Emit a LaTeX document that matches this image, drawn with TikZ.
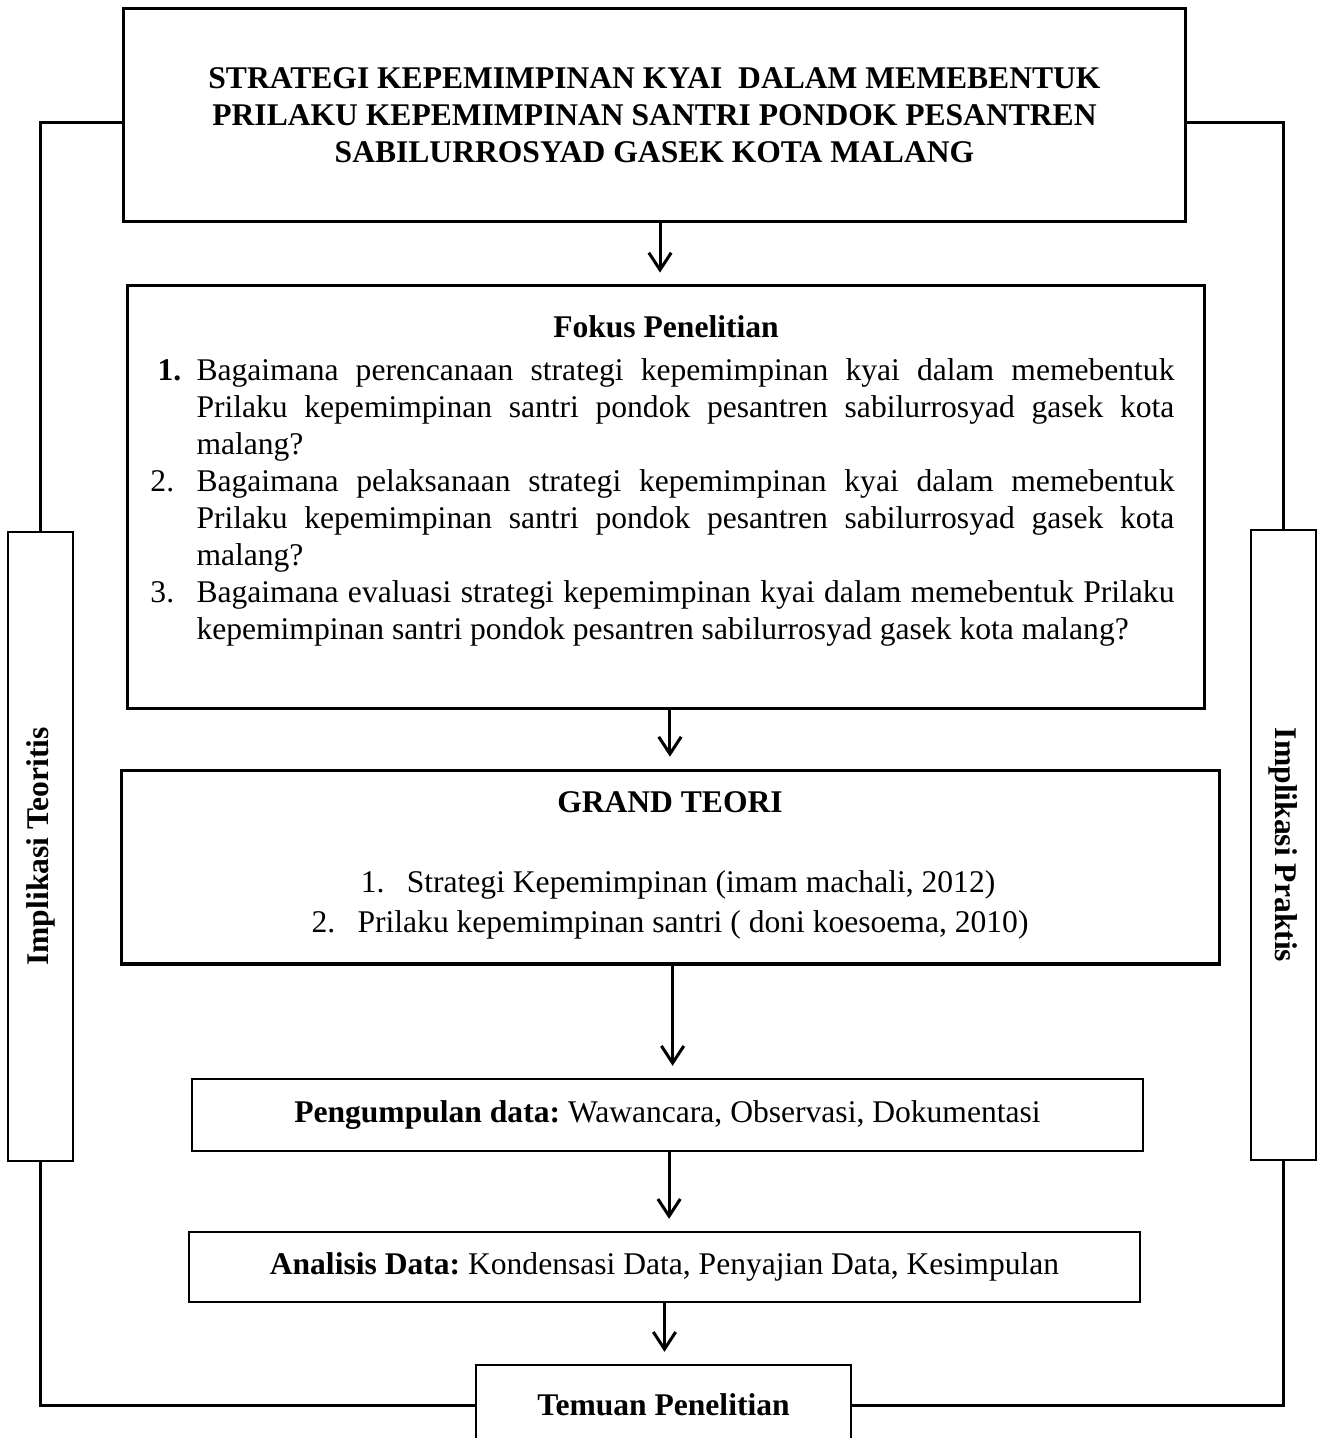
\documentclass[tikz,border=0pt]{standalone}
\usepackage{fontspec}
\setmainfont{Liberation Serif}
\frenchspacing
\usetikzlibrary{arrows.meta,positioning}
\tikzset{
    box/.style={draw,line width=1pt,inner sep=0pt},
    bigbox/.style={box,line width=1.15pt},
    bold/.style={font=\fontsize{12}{14}\selectfont\bfseries},
    link/.style={line width=1.15pt},
    flow/.style={line width=1.15pt,-{Straight Barb[length=6.5pt,width=8.5pt]},shorten >=4.5pt},
    every node/.style={font=\fontsize{12}{14.1}\selectfont}
}

\begin{document}
\begin{tikzpicture}[x=.38pt,y=-.38pt]

    \useasboundingbox (0,0) rectangle (1319,1438);
    \clip (0,0) rectangle (1319,1438);

    % Draw title box.
    \node (title) at (654.5,115) [bigbox,bold,align=center,minimum width=403.9pt,minimum height=80.6pt]
        {STRATEGI KEPEMIMPINAN KYAI\ \ DALAM MEMEBENTUK\\
         PRILAKU KEPEMIMPINAN SANTRI PONDOK PESANTREN\\
         SABILURROSYAD GASEK KOTA MALANG};

    % Draw focus box with its questions.
    \node (fokus) at (666,497) [bigbox,minimum width=409.6pt,minimum height=160.4pt] {};
    \node (fokushead) at (666,337) [anchor=base,bold] {Fokus Penelitian};
    \node (fokuslist) at (196,380) [anchor=base west,inner sep=0pt,text width=371.6pt,align=justify]
        {\noindent\llap{\makebox[14.8pt][l]{\textbf{1.}}}Bagaimana perencanaan strategi kepemimpinan kyai dalam memebentuk\linebreak
         Prilaku kepemimpinan santri pondok pesantren sabilurrosyad gasek kota\linebreak
         malang?\par
         \noindent\llap{\makebox[17.5pt][l]{2.}}Bagaimana pelaksanaan strategi kepemimpinan kyai dalam memebentuk\linebreak
         Prilaku kepemimpinan santri pondok pesantren sabilurrosyad gasek kota\linebreak
         malang?\par
         \noindent\llap{\makebox[17.5pt][l]{3.}}Bagaimana evaluasi strategi kepemimpinan kyai dalam memebentuk Prilaku\linebreak
         kepemimpinan santri pondok pesantren sabilurrosyad gasek kota malang?};

    % Draw grand theory box.
    \node (grand) at (670.5,867) [bigbox,minimum width=417.6pt,minimum height=73.7pt] {};
    \node (grandhead) at (670,812) [anchor=base,bold] {GRAND TEORI};
    \foreach \n/\x/\y/\t in {1/678/892/{Strategi Kepemimpinan (imam machali, 2012)},
                             2/670/932/{Prilaku kepemimpinan santri ( doni koesoema, 2010)}}
        \node (teori\n) at (\x,\y) [anchor=base] {\makebox[17.5pt][l]{\n.}\t};

    % Draw data collection and analysis boxes.
    \node (kumpul) at (667.5,1115) [box,minimum width=361.4pt,minimum height=27.4pt]
        {\textbf{Pengumpulan data:} Wawancara, Observasi, Dokumentasi};
    \node (analisis) at (664.5,1267) [box,minimum width=361.4pt,minimum height=26.6pt]
        {\textbf{Analisis Data:} Kondensasi Data, Penyajian Data, Kesimpulan};

    % Draw findings box.
    \node (temuan) at (663.5,1405) [box,bold,minimum width=142.5pt,minimum height=30.4pt] {Temuan Penelitian};

    % Draw implication boxes.
    \node (teoritis) at (40.5,846.5) [box,minimum width=24.7pt,minimum height=239pt] {};
    \node (praktis) at (1283.5,845) [box,minimum width=24.7pt,minimum height=239.4pt] {};
    \node (teoritislabel) at (teoritis.center) [rotate=90,bold] {Implikasi Teoritis};
    \node (praktislabel) at (praktis.center) [rotate=-90,bold] {Implikasi Praktis};

    % Draw arrows down the middle.
    \foreach \a/\b/\s in {title/fokus/2.1,fokus/grand/1.5,grand/kumpul/.8,kumpul/analisis/.6,analisis/temuan/0}
        \draw[flow] ([xshift=\s pt]\a.south) -- ([xshift=\s pt]\a.south |- \b.north);

    % Draw side lines.
    \draw[link] ([yshift=-2.7pt]title.west) -| (teoritis.north);
    \draw[link] ([yshift=-2.7pt]title.east) -| (praktis.north);
    \draw[link] (teoritis.south) |- (temuan.west);
    \draw[link] (praktis.south) |- (temuan.east);

\end{tikzpicture}
\end{document}
